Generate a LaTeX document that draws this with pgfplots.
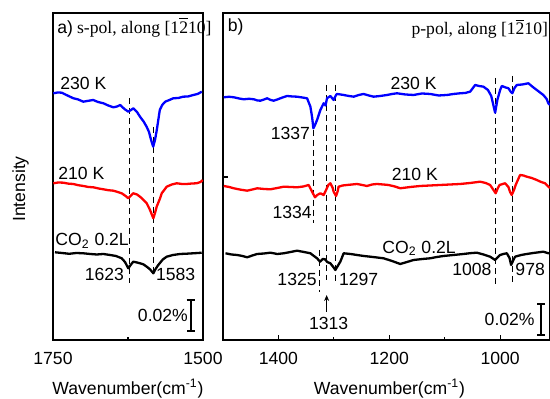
\documentclass[border=0pt]{standalone}
\usepackage{fontspec}
\setmainfont{Liberation Sans}
\newfontfamily\serif{Liberation Serif}
\usepackage{pgfplots}
\pgfplotsset{compat=1.18}
\usetikzlibrary{arrows.meta}
\tikzset{
 dl/.style={black, line width=0.5pt, dash pattern=on 3pt off 2pt},
 bar/.style={black, line width=0.8pt, {Bar[width=4pt]}-{Bar[width=4pt]}},
}
\begin{document}
\fontsize{8.8}{10}\selectfont
\begin{tikzpicture}[x=1pt,y=1pt]
\useasboundingbox (0,0) rectangle (275,199.5);
\pgfplotsset{
 every axis/.append style={
  scale only axis, x dir=reverse, ymin=0, ymax=327,
  axis line style={line width=0.8pt},
  font=\fontsize{8.8}{10}\selectfont,
  ticklabel style={font=\fontsize{8.8}{10}\selectfont},
  /pgf/number format/assume math mode=true,
  /pgf/number format/set thousands separator={},
  xtick pos=left, tick align=inside,
  major tick length=2.5pt, minor tick length=1.5pt,
  tick style={line width=0.6pt, black},
  ytick=\empty, clip=false,
  xticklabel style={yshift=-3pt},
 },
 cv/.style={line width=1.15pt, mark=none, line join=round},
}
% panel a
\begin{axis}[at={(26.5pt,29.5pt)}, anchor=south west, width=75pt, height=163.5pt,
  xmin=1500, xmax=1750, xtick={1750,1500}, minor xtick={1625}]
\draw[dl] (axis cs:1623,242) -- (axis cs:1623,57);
\draw[dl] (axis cs:1583,213) -- (axis cs:1583,67);
\addplot[cv, blue] coordinates {
(1749.5,246.7)(1742,247.5)(1735.5,247.3)(1726,244.5)(1716,241.7)(1708,240.5)(1699.5,238.3)(1691,239.2)(1683,240)(1675,238)(1666,236.7)(1658,234.5)(1649.5,232.7)(1643,233.5)(1638,235)(1631,231)(1624.5,228.3)(1620,230)(1616,231.7)(1610,228)(1605,223.3)(1599,218.5)(1594,213.3)(1590,208)(1588,203.3)(1585,197)(1583,193.3)(1580,200)(1577,210)(1572,230)(1568,235)(1563,238.3)(1556,240)(1549.5,241.7)(1541,242)(1533,243.3)(1525,243.5)(1516,245)(1509,246)(1502,248.3)};
\addplot[cv, red] coordinates {
(1749.5,156.7)(1741,157.5)(1732.8,157.3)(1724,156.3)(1716.2,156)(1708,154.8)(1699.5,154)(1691,153)(1682.8,152.7)(1674,151.5)(1666.2,150.7)(1658,149.8)(1649.5,149.3)(1642,148)(1635.5,146.7)(1629,144)(1624.5,141.7)(1620,144.5)(1616.2,146.7)(1610,145.5)(1605,143.3)(1599,140)(1593.8,136.7)(1588.3,130)(1585,125)(1582.8,121.7)(1580,127)(1577.2,133.3)(1572,141)(1568.8,146.7)(1560.5,153.3)(1552,155.5)(1543.8,156.7)(1535,156)(1527.2,156)(1518,156.5)(1510.5,156.7)(1504,158)(1500.5,160)};
\addplot[cv, black] coordinates {
(1746.7,87.7)(1735,87)(1723,86.2)(1711,87)(1699.5,86.7)(1688,86)(1677,85.5)(1666,86)(1655,85)(1645,84)(1635.5,81.7)(1630,78)(1624.5,71.7)(1620,75.5)(1616.2,78.3)(1610,77.5)(1605,76.7)(1599,75.5)(1593.8,73.3)(1588,70.5)(1582.8,66.7)(1579,71)(1574.5,75)(1567,80.5)(1560.5,83.3)(1550,85)(1538.3,86)(1527,86.3)(1516.2,86.7)(1508,87)(1502.2,87.3)};
\node[anchor=base west, inner sep=0] at (axis cs:1743.3,306.7) {a)};
\node[anchor=base west, inner sep=0] at (axis cs:1710.5,306.7) {\serif s-pol, along [1$\overline{\mbox{\serif 2}}$10]};
\node[anchor=base west, inner sep=0] at (axis cs:1738.3,250) {230 K};
\node[anchor=base west, inner sep=0] at (axis cs:1741.7,160) {210 K};
\node[anchor=base west, inner sep=0] at (axis cs:1746.7,94.3) {CO\textsubscript{2} 0.2L};
\node[anchor=base east, inner sep=0] at (axis cs:1631,59) {1623};
\node[anchor=base west, inner sep=0] at (axis cs:1578.8,59) {1583};
\node[anchor=base east, inner sep=0] at (axis cs:1524.5,18.3) {0.02\%};
\draw[bar] (axis cs:1520.5,8) -- (axis cs:1520.5,41);
\end{axis}
% panel b
\begin{axis}[at={(111.5pt,29.5pt)}, anchor=south west, width=163.5pt, height=163.5pt,
  xmin=910, xmax=1500, xtick={1400,1200,1000}, minor xtick={1300,1100},
  ytick={163}, yticklabels={}, ytick pos=left]
\draw[dl] (axis cs:1337,210) -- (axis cs:1337,117);
\draw[dl] (axis cs:1325,90) -- (axis cs:1325,48);
\draw[dl] (axis cs:1313,255) -- (axis cs:1313,60);
\draw[dl] (axis cs:1297,255) -- (axis cs:1297,57);
\draw[dl] (axis cs:1008,262) -- (axis cs:1008,55);
\draw[dl] (axis cs:978,264) -- (axis cs:978,58);
\addplot[cv, blue] coordinates {
(1498.6,242.7)(1489,243.2)(1480.5,242.7)(1471,241.5)(1462.5,240.7)(1453,241.2)(1444.5,240.7)(1438,239.5)(1432.4,239.3)(1426,240.5)(1420.4,241.7)(1414,240)(1408.5,239.3)(1402,240.5)(1396.4,241.7)(1390,243)(1384.3,244)(1375,243.5)(1366.3,243.3)(1357,242.5)(1348.3,241.7)(1342.3,233.3)(1339,222)(1337,211.7)(1334,215)(1330.3,220)(1324.3,230)(1318.4,236.7)(1315,234.5)(1312.3,241.7)(1306.3,244)(1300.4,240)(1296,245)(1294.2,246)(1288,245.5)(1282.3,245)(1273,244)(1264.3,243.3)(1255,245)(1246.3,246)(1237,244.5)(1228.3,243.3)(1216.2,244)(1204.1,245)(1195,246)(1186.1,246.7)(1171,245.5)(1156.2,245)(1141,246.5)(1126.1,246)(1111,244.5)(1096,245)(1084,246)(1072.1,246.7)(1063,247)(1054.1,248.3)(1045,255)(1038,254)(1030.1,253.3)(1022,250)(1016,244)(1011,232)(1009,227.3)(1005,240)(1000,250)(996.9,254)(990,252.5)(985,251.7)(980.5,248)(978,246.7)(974,252)(969.9,255)(960,255.5)(949,256.7)(941,253)(933.9,250)(928,247.5)(922,245)(916,241)(913,236.7)(910,235)};
\addplot[cv, red] coordinates {
(1498.6,154)(1489,153)(1480.5,151.7)(1468,150.3)(1456.4,149.3)(1447,150.5)(1438.4,151.7)(1426,151)(1414.4,150.7)(1402,152)(1390.5,153.3)(1378,153)(1366.3,152.7)(1355,153.5)(1345.4,155)(1339.3,148.3)(1334,142.7)(1330,145)(1324.3,146.7)(1318.4,145)(1314,150)(1310,155)(1306.3,156.7)(1302,152)(1300.4,148.3)(1296,144)(1293,149)(1291.4,153.3)(1284,154.5)(1276.2,155)(1267,155.5)(1258.2,156)(1249,155)(1240.2,154)(1231,155.5)(1222.2,156)(1211,155.5)(1201.3,155)(1190,153.5)(1180.2,151.7)(1162,153)(1144.1,154)(1126,154.5)(1108.1,155)(1090,155.5)(1072.1,156)(1054,157)(1036,158.3)(1026,157)(1018,155)(1012,150)(1008,146.7)(1004,152)(1001,155)(991,156.7)(985,153)(982,148)(979,145)(975,150)(972,155)(964,165)(958,164.5)(951.9,163.3)(943,162)(933.9,160)(926,158)(918.9,156.7)(913,153.3)(910,152)};
\addplot[cv, black] coordinates {
(1495.5,86.7)(1485,85.5)(1474.4,85)(1465,84)(1456.4,82.7)(1447,84.5)(1438.4,86)(1426,86.5)(1414.4,87.3)(1402,86)(1390.5,86.7)(1378,88)(1366.3,89.3)(1354,88)(1342.3,86.7)(1336,84)(1330.3,81.7)(1325,78.3)(1320,81)(1316,80.7)(1312,78)(1306.3,76.7)(1301,73)(1297.3,70)(1293,74)(1288.3,78.3)(1282.3,86.7)(1270,86)(1258.2,85)(1246,84)(1234.2,83.3)(1222,82.5)(1210.3,81.7)(1195,79)(1180.2,76)(1168,78)(1156.2,80)(1140,81)(1126.1,81.7)(1114,83)(1102.2,84)(1084,85)(1066.1,86)(1054,86.8)(1042,87.3)(1030,85.5)(1018,83.3)(1009,80)(1004,83)(1000,85)(994,86)(987.9,86.7)(983,82)(980.2,75)(976,80)(973,83.3)(962,85)(951.9,86)(940,87)(922,88.3)(913,86.7)(910,87)};
\node[anchor=base west, inner sep=0] at (axis cs:1491.9,308.3) {b)};
\node[anchor=base east, inner sep=0] at (axis cs:913,305) {\serif p-pol, along [1$\overline{\mbox{\serif 2}}$10]};
\node[anchor=base west, inner sep=0] at (axis cs:1198.2,250) {230 K};
\node[anchor=base east, inner sep=0] at (axis cs:1342.3,200.7) {1337};
\node[anchor=base west, inner sep=0] at (axis cs:1196,159.3) {210 K};
\node[anchor=base east, inner sep=0] at (axis cs:1339.3,121.7) {1334};
\node[anchor=base west, inner sep=0] at (axis cs:1213.2,86.7) {CO\textsubscript{2} 0.2L};
\node[anchor=base east, inner sep=0] at (axis cs:1330.3,54) {1325};
\node[anchor=base west, inner sep=0] at (axis cs:1291.4,54) {1297};
\node[anchor=base, inner sep=0] at (axis cs:1309.4,10) {1313};
\draw[-{Stealth[length=3pt,width=2.5pt]}, line width=0.5pt] (axis cs:1313,28) -- (axis cs:1313,45);
\node[anchor=base east, inner sep=0] at (axis cs:1014.9,64) {1008};
\node[anchor=base west, inner sep=0] at (axis cs:973,64) {978};
\node[anchor=base east, inner sep=0] at (axis cs:937,14) {0.02\%};
\draw[bar] (axis cs:926.1,4) -- (axis cs:926.1,37);
\end{axis}
\node[anchor=base, rotate=90, inner sep=0] at (12.5,105) {Intensity};
\node[anchor=base, inner sep=0] at (64,2) {Wavenumber(cm\textsuperscript{-1})};
\node[anchor=base, inner sep=0] at (194.75,2) {Wavenumber(cm\textsuperscript{-1})};
\end{tikzpicture}
\end{document}
